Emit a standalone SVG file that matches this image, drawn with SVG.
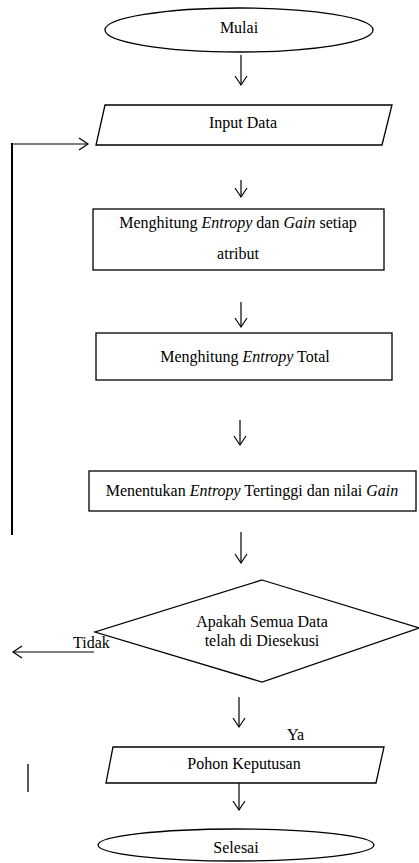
<svg xmlns="http://www.w3.org/2000/svg" width="419" height="863" viewBox="0 0 419 863">
<style>
.s{fill:#fff;stroke:#000;stroke-width:1.3}
.t{font-family:"Liberation Serif","Times New Roman",serif;font-size:16px;fill:#000;text-anchor:middle}
.tl{font-family:"Liberation Serif","Times New Roman",serif;font-size:16px;fill:#000}
.c{fill:none;stroke:#000;stroke-width:1.2}
.i{font-style:italic}
</style>
<defs>
<marker id="ah" viewBox="-10 -7 12 14" refX="0" refY="0" markerWidth="12" markerHeight="14" markerUnits="userSpaceOnUse" orient="auto">
<path d="M-9,-6 L0,0 L-9,6" fill="none" stroke="#000" stroke-width="1.2"/>
</marker>
</defs>
<rect width="419" height="863" fill="#fff"/>
<g id="connectors">
<line class="c" x1="241" y1="55" x2="241" y2="85" marker-end="url(#ah)"/>
<line class="c" x1="241" y1="180" x2="241" y2="197" marker-end="url(#ah)"/>
<line class="c" x1="241" y1="302" x2="241" y2="327" marker-end="url(#ah)"/>
<line class="c" x1="240" y1="420" x2="240" y2="445" marker-end="url(#ah)"/>
<line class="c" x1="241" y1="532" x2="241" y2="563" marker-end="url(#ah)"/>
<line class="c" x1="239" y1="697" x2="239" y2="727" marker-end="url(#ah)"/>
<line class="c" x1="239" y1="783" x2="239" y2="810" marker-end="url(#ah)"/>
<line class="c" x1="94" y1="652" x2="13" y2="652" marker-end="url(#ah)"/>
<line x1="12" y1="535" x2="12" y2="143" stroke="#000" stroke-width="2"/>
<line class="c" x1="11" y1="144" x2="88" y2="144" stroke-width="1.5" marker-end="url(#ah)"/>
<line x1="28" y1="764" x2="28" y2="792" stroke="#000" stroke-width="1.3"/>
<text class="tl" x="73" y="648">Tidak</text>
<text class="tl" x="287" y="740">Ya</text>
</g>
<g id="mulai">
<ellipse class="s" cx="239" cy="30" rx="134" ry="22"/>
<text class="t" x="239" y="33">Mulai</text>
</g>
<g id="input-data">
<polygon class="s" points="105,105 392,105 382,145 96,145"/>
<text class="t" x="243" y="128">Input Data</text>
</g>
<g id="hitung-entropy-gain">
<rect class="s" x="93" y="209" width="291" height="61"/>
<text class="t" x="238" y="228">Menghitung <tspan class="i">Entropy</tspan> dan <tspan class="i">Gain</tspan> setiap</text>
<text class="t" x="238" y="259">atribut</text>
</g>
<g id="hitung-entropy-total">
<rect class="s" x="96" y="333" width="296" height="47"/>
<text class="t" x="245" y="362">Menghitung <tspan class="i">Entropy</tspan> Total</text>
</g>
<g id="tentukan-entropy">
<rect class="s" x="89" y="471" width="327" height="40"/>
<text class="t" x="252" y="496">Menentukan <tspan class="i">Entropy</tspan> Tertinggi dan nilai <tspan class="i">Gain</tspan></text>
</g>
<g id="keputusan">
<polygon class="s" points="262,580 419,628 262,682 95,632"/>
<text class="t" x="262" y="627">Apakah Semua Data</text>
<text class="t" x="262" y="646">telah di Diesekusi</text>
</g>
<g id="pohon-keputusan">
<polygon class="s" points="113,747 384,747 376,783 106,783"/>
<text class="t" x="244" y="769">Pohon Keputusan</text>
</g>
<g id="selesai">
<ellipse class="s" cx="236" cy="845" rx="138" ry="16"/>
<text class="t" x="236" y="853">Selesai</text>
</g>
</svg>
